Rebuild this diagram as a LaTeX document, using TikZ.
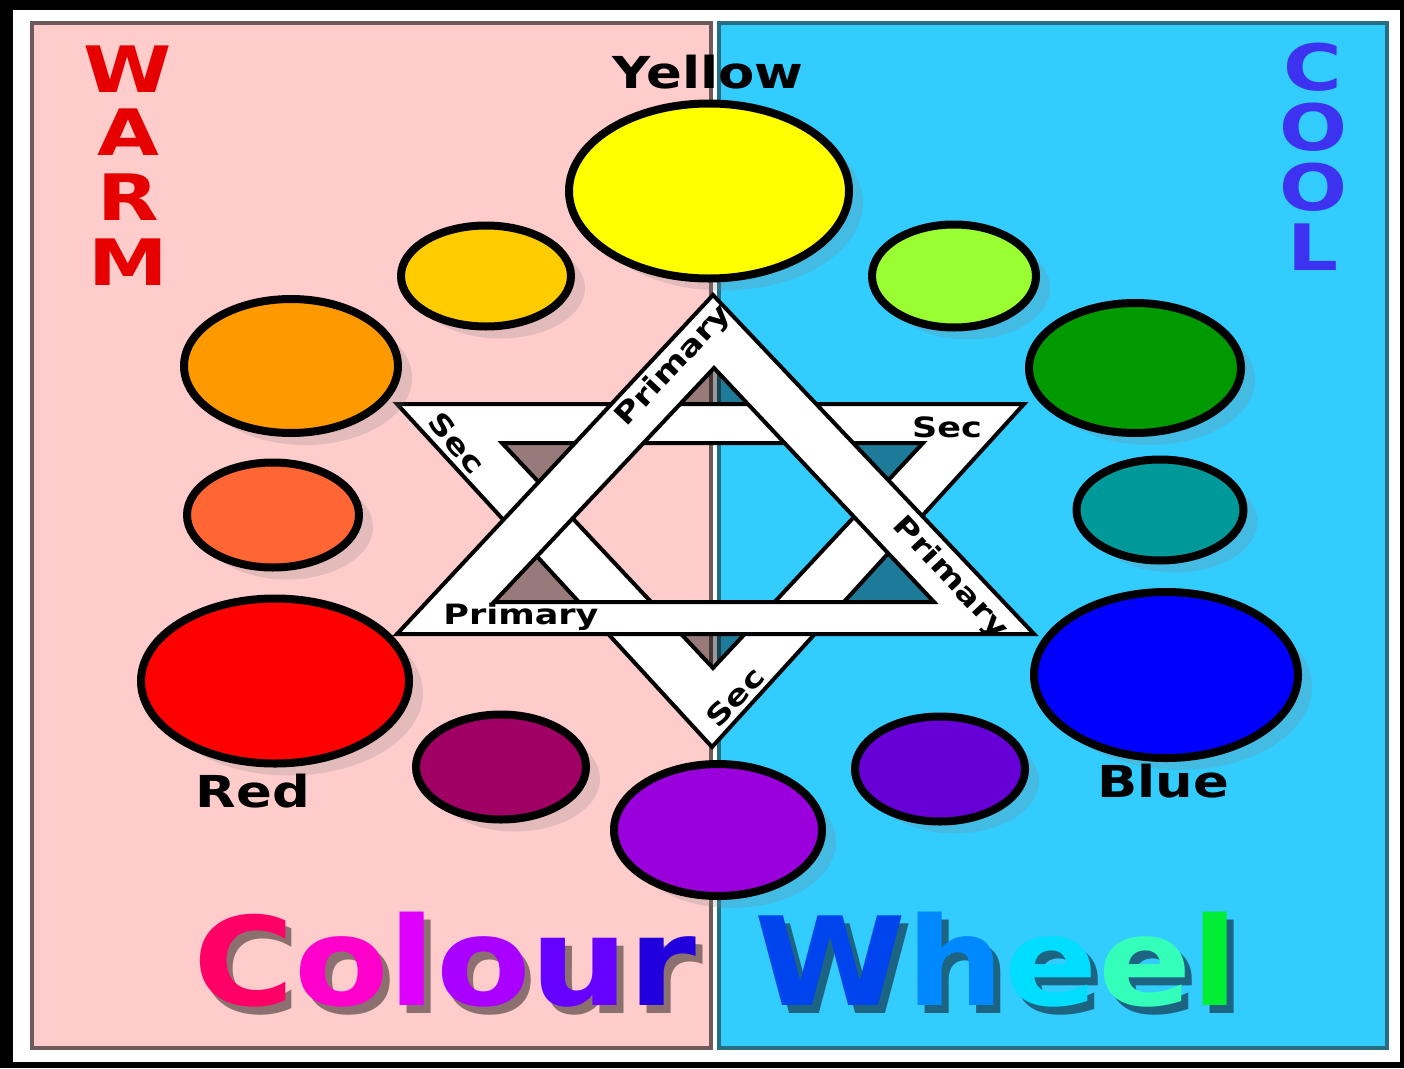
\documentclass[tikz,border=0pt]{standalone}
\usepackage{fontspec}
\setmainfont{DejaVu Sans}
\usepackage{tikz}
\usetikzlibrary{shapes.geometric,shadows}
\definecolor{pinkbg}{RGB}{255,204,204}
\definecolor{cyanbg}{RGB}{51,204,255}
\definecolor{pinkline}{RGB}{110,90,90}
\definecolor{cyanline}{RGB}{40,110,130}
\definecolor{pinkshad}{RGB}{140,112,112}
\definecolor{cyanshad}{RGB}{28,100,130}
\definecolor{cYel}{RGB}{255,255,0}
\definecolor{cYelOr}{RGB}{255,204,0}
\definecolor{cOr}{RGB}{255,153,0}
\definecolor{cRedOr}{RGB}{255,102,51}
\definecolor{cRed}{RGB}{255,0,0}
\definecolor{cRedVi}{RGB}{160,0,100}
\definecolor{cVi}{RGB}{153,0,220}
\definecolor{cBlueVi}{RGB}{102,0,214}
\definecolor{cBlue}{RGB}{0,0,255}
\definecolor{cTeal}{RGB}{0,153,153}
\definecolor{cGreen}{RGB}{0,153,0}
\definecolor{cYelGr}{RGB}{153,255,51}
\definecolor{warmred}{RGB}{230,0,0}
\definecolor{coolblue}{RGB}{60,50,240}
\newcommand\lblfont{\fontsize{44}{44}\selectfont\bfseries}
\newcommand\bandfont{\fontsize{28}{28}\selectfont\bfseries}
\newcommand\bigfont{\fontsize{64}{64}\selectfont\bfseries}
\newcommand\titlefont{\fontsize{123}{123}\selectfont\bfseries}
% word with a dark copy set behind it, down and to the right
\newcommand\shadword[2]{\rlap{\kern6pt\raisebox{-8pt}{\color{#1}#2}}}

\begin{document}
\begin{tikzpicture}[x=1pt,y=-1pt,
  disc/.style={ellipse,draw=black,line width=8pt,inner sep=0pt,
               drop shadow={shadow xshift=14pt,shadow yshift=-12pt,opacity=.22}},
  band/.style={fill=white,draw=black,line width=4pt,even odd rule},
  tip/.style={fill=black,opacity=.4,even odd rule},
  lbl/.style={font=\lblfont,xscale=1.2,inner sep=0pt,anchor=base},
  bandtxt/.style={font=\bandfont,xscale=1.25,inner sep=0pt},
  big/.style={font=\bigfont,xscale=1.25,inner sep=0pt,anchor=base},
  title/.style={font=\titlefont,xscale=1.12,inner sep=0pt,anchor=base},
]
\useasboundingbox (0,0) rectangle (1404,1068);
% frame and the two halves
\fill[black] (0,0) rectangle (1404,1068);
\fill[white] (13,10) rectangle (1400,1062);
\filldraw[fill=pinkbg,draw=pinkline,line width=4pt] (32,23) rectangle (711,1048);
\filldraw[fill=cyanbg,draw=cyanline,line width=4pt] (719,23) rectangle (1387,1048);

% star: primary (up) over secondary (down)
\coordinate (P1) at (713,295); \coordinate (P2) at (1034,634); \coordinate (P3) at (397,634);
\coordinate (p1) at (714,368); \coordinate (p2) at (934,602);  \coordinate (p3) at (494,602);
\coordinate (S1) at (397,404); \coordinate (S2) at (1024,404); \coordinate (S3) at (712,747);
\coordinate (s1) at (502,443); \coordinate (s2) at (923,443);  \coordinate (s3) at (713,668);
\fill[tip] (p1)--(p2)--(p3)--cycle (s1)--(s2)--(s3)--cycle;
\filldraw[band] (S1)--(S2)--(S3)--cycle (s1)--(s2)--(s3)--cycle;
\filldraw[band] (P1)--(P2)--(P3)--cycle (p1)--(p2)--(p3)--cycle;
\node[rotate=47,bandtxt]  (prl) at (674,366) {Primary};
\node[rotate=-47,bandtxt] (prr) at (950,578) {Primary};
\node[bandtxt]            (prb) at (521,617) {Primary};
\node[rotate=-50,bandtxt] (scl) at (457,443) {Sec};
\node[bandtxt]            (scr) at (947,427) {Sec};
\node[rotate=47,bandtxt]  (scb) at (735,697) {Sec};

% the twelve colours
\node[disc,fill=cYel,   minimum width=280pt,minimum height=175pt] (yel)   at (709,191) {};
\node[disc,fill=cYelOr, minimum width=170pt,minimum height=101pt] (yelor) at (486,276) {};
\node[disc,fill=cOr,    minimum width=214pt,minimum height=134pt] (or)    at (291,366) {};
\node[disc,fill=cRedOr, minimum width=172pt,minimum height=105pt] (redor) at (273,515) {};
\node[disc,fill=cRed,   minimum width=268pt,minimum height=165pt] (red)   at (275,681) {};
\node[disc,fill=cRedVi, minimum width=170pt,minimum height=105pt] (redvi) at (501,767) {};
\node[disc,fill=cVi,    minimum width=208pt,minimum height=132pt] (vi)    at (718,830) {};
\node[disc,fill=cBlueVi,minimum width=170pt,minimum height=105pt] (bluvi) at (940,769) {};
\node[disc,fill=cBlue,  minimum width=264pt,minimum height=166pt] (blue)  at (1166,675) {};
\node[disc,fill=cTeal,  minimum width=167pt,minimum height=101pt] (teal)  at (1160,510) {};
\node[disc,fill=cGreen, minimum width=212pt,minimum height=130pt] (green) at (1135,368) {};
\node[disc,fill=cYelGr, minimum width=164pt,minimum height=103pt] (yelgr) at (954,276) {};

\node[lbl] (lyel)  at (708,88)   {Yellow};
\node[lbl] (lred)  at (253,807)  {Red};
\node[lbl] (lblue) at (1163,797) {Blue};

% warm / cool
\foreach \l/\y [count=\i] in {W/92,A/155,R/220,M/285}
  \node[big,text=warmred] (warm\i) at (128,\y) {\l};
\foreach \l/\y [count=\i] in {C/90,O/150,O/210,L/270}
  \node[big,text=coolblue] (cool\i) at (1313,\y) {\l};

% title
\node[title] (tcol) at (445,1005) {\shadword{pinkshad}{Colour}\color[RGB]{255,0,102}C\color[RGB]{255,0,204}o\color[RGB]{221,0,255}l\color[RGB]{170,0,255}o\color[RGB]{102,0,255}u\color[RGB]{34,0,221}r};
\node[title] (twhl) at (997,1005) {\shadword{cyanshad}{Wheel}\color[RGB]{0,68,238}W\color[RGB]{0,136,255}h\color[RGB]{0,221,255}e\color[RGB]{51,255,187}e\color[RGB]{0,238,51}l};
\end{tikzpicture}
\end{document}
